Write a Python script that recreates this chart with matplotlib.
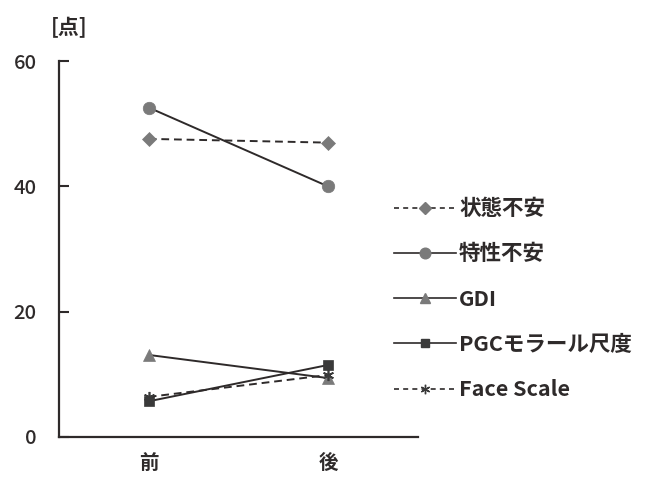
import matplotlib.pyplot as plt
from matplotlib.lines import Line2D

plt.rcParams['font.family'] = ['Noto Sans CJK JP', 'DejaVu Sans']

# 前後の得点
periods = ['前', '後']
state_anxiety = [47.6, 47.0]
trait_anxiety = [52.6, 40.0]
gdi = [13.1, 9.4]
pgc = [5.7, 11.5]
face_scale = [6.4, 9.9]

labels = ['状態不安', '特性不安', 'GDI', 'PGCモラール尺度', 'Face Scale']
series = [state_anxiety, trait_anxiety, gdi, pgc, face_scale]
markers = ['D', 'o', '^', 's', (6, 2, 0)]
msizes = [7, 9, 8, 7, 8]
styles = ['--', '-', '-', '-', '--']
mfc = ['#7a7a7a', '#7a7a7a', '#7a7a7a', '#3a3a3a', '#3a3a3a']

line_col = '#2e2a2a'

fig = plt.figure(figsize=(6.48, 4.82), dpi=100)
ax = fig.add_axes([0.091, 0.0934, 0.554, 0.7796])

x = list(range(len(periods)))
handles = []
for vals, lab, m, ms, ls, fc in zip(series, labels, markers, msizes, styles, mfc):
    dashes = (4, 2.5) if ls == '--' else ()
    ax.plot(x, vals, linestyle=ls, color=line_col, lw=1.4,
            marker=m, markersize=ms, markerfacecolor=fc,
            markeredgecolor=fc, markeredgewidth=1.2 if m == (6, 2, 0) else 0.5,
            **({'dashes': dashes} if dashes else {}))
    h = Line2D([], [], linestyle=ls, color=line_col, lw=1.2,
               marker=m, markersize=ms * 0.85, markerfacecolor=fc,
               markeredgecolor=fc)
    if dashes:
        h.set_dashes((3, 2.5))
    handles.append(h)

ax.set_xlim(-0.5, 1.5)
ax.set_ylim(0, 60)
ax.set_yticks([0, 20, 40, 60])
ax.set_xticks(x)
ax.set_xticklabels(periods, fontsize=14, fontweight='bold')
for t in ax.get_yticklabels():
    t.set_fontweight('medium')
ax.tick_params(axis='y', direction='in', length=7, width=1.5, pad=16,
               labelsize=14.5, colors=line_col)
ax.tick_params(axis='x', length=0, pad=12, colors=line_col)

for s in ['top', 'right']:
    ax.spines[s].set_visible(False)
for s in ['left', 'bottom']:
    ax.spines[s].set_linewidth(1.6)
    ax.spines[s].set_color(line_col)

ax.text(0.028, 1.09, '[点]', transform=ax.transAxes, fontsize=15,
        fontweight='bold', color=line_col, ha='center', va='center')

leg = fig.legend(handles, labels, loc='upper left',
                 bbox_to_anchor=(0.594, 0.607), frameon=False,
                 fontsize=15.5, handlelength=2.9, handletextpad=0.15,
                 labelspacing=1.13, borderaxespad=0)
for t in leg.get_texts():
    t.set_color(line_col)
    t.set_fontweight('bold')

fig.savefig('out.png', dpi=100)
